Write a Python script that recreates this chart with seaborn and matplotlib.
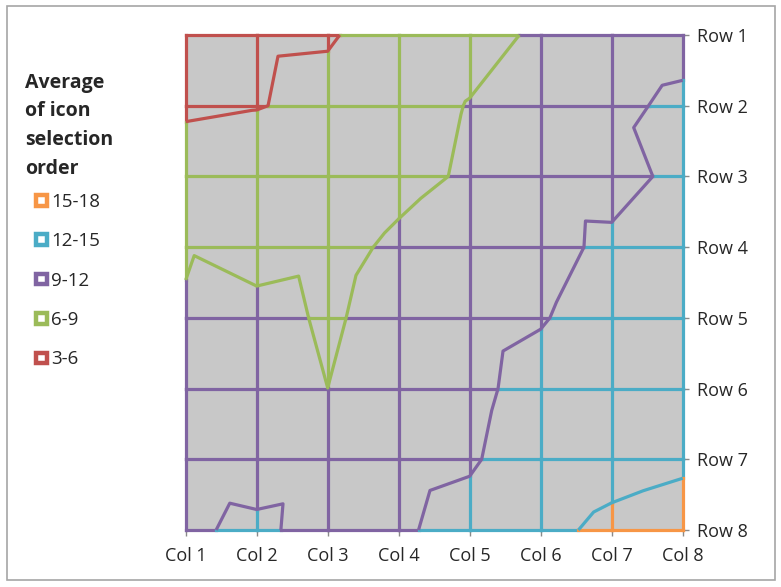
import numpy as np
import pandas as pd
import matplotlib
matplotlib.use("Agg")
import matplotlib.pyplot as plt
import matplotlib.tri as mtri
from matplotlib.collections import LineCollection
from matplotlib.patches import Rectangle
import seaborn as sns

# grid categories
col_labels = ["Col 1", "Col 2", "Col 3", "Col 4", "Col 5", "Col 6", "Col 7", "Col 8"]
row_labels = ["Row 1", "Row 2", "Row 3", "Row 4", "Row 5", "Row 6", "Row 7", "Row 8"]

# average icon selection order, one list per grid row
row_1 = [4.5, 5.64, 5.75, 7.22, 8.0, 9.43, 10.4, 10.84]
row_2 = [5.33, 5.84, 6.84, 7.79, 9.12, 10.3, 11.3, 12.65]
row_3 = [8.3, 8.5, 6.72, 8.145, 9.37, 10.02, 9.85, 13.56]
row_4 = [8.8, 7.2, 7.98, 9.57, 10.9, 10.19, 13.16, 13.3]
row_5 = [9.23, 10.47, 8.46, 10.54, 10.47, 11.67, 14.21, 13.8]
row_6 = [10.0, 10.0, 9.005, 10.3, 10.85, 13.73, 14.0, 14.2]
row_7 = [10.69, 10.04, 10.64, 10.7, 11.48, 14.56, 14.76, 14.89]
row_8 = [11.4, 12.8, 10.45, 11.36, 13.65, 14.83, 15.15, 15.3]

# value bands
band_edges = [3, 6, 9, 12, 15, 18]
band_labels = ["3-6", "6-9", "9-12", "12-15", "15-18"]
band_hex = ["#C0504D", "#9BBB59", "#8064A2", "#4BACC6", "#F79646"]

sns.set_theme(style="white")
plt.rcParams["font.family"] = ["Open Sans", "DejaVu Sans"]
band_colors = sns.color_palette(band_hex)

table = pd.DataFrame([row_1, row_2, row_3, row_4, row_5, row_6, row_7, row_8],
                     index=row_labels, columns=col_labels)
Z = table.to_numpy(dtype=float)
n_rows, n_cols = Z.shape

W, H = 781, 587
fig = plt.figure(figsize=(W / 100, H / 100), dpi=100)
fig.patch.set_facecolor("white")

# plot area placed in pixel terms
x0, x1 = 185.7, 682.7
y0, y1 = 35.0, 530.0
ax = fig.add_axes([x0 / W, (H - y1) / H, (x1 - x0) / W, (y1 - y0) / H])
ax.set_facecolor("#C8C8C8")
ax.set_xlim(1, n_cols)
ax.set_ylim(n_rows, 1)
for s in ax.spines.values():
    s.set_visible(False)


def band_index(v):
    i = int(np.searchsorted(band_edges, v, side="right")) - 1
    return min(max(i, 0), len(band_colors) - 1)


def split_edge(p0, p1, z0, z1):
    """Split one grid edge at band boundaries, returning coloured pieces."""
    ts = [0.0, 1.0]
    for lv in band_edges[1:-1]:
        if (z0 - lv) * (z1 - lv) < 0:
            ts.append((lv - z0) / (z1 - z0))
    ts = sorted(ts)
    out = []
    p0 = np.asarray(p0, float)
    p1 = np.asarray(p1, float)
    for a, b in zip(ts[:-1], ts[1:]):
        zm = z0 + 0.5 * (a + b) * (z1 - z0)
        out.append(([p0 + a * (p1 - p0), p0 + b * (p1 - p0)], band_colors[band_index(zm)]))
    return out


segs, cols = [], []
for r in range(n_rows):
    for c in range(n_cols - 1):
        for seg, colr in split_edge((c + 1, r + 1), (c + 2, r + 1), Z[r, c], Z[r, c + 1]):
            segs.append(seg)
            cols.append(colr)
for c in range(n_cols):
    for r in range(n_rows - 1):
        for seg, colr in split_edge((c + 1, r + 1), (c + 1, r + 2), Z[r, c], Z[r + 1, c]):
            segs.append(seg)
            cols.append(colr)

wire = LineCollection(segs, colors=cols, linewidths=2.3, capstyle="projecting",
                      clip_on=False, zorder=2)
ax.add_collection(wire)

# contour lines: each cell is cut along the diagonal with the higher end values
xs = np.tile(np.arange(1, n_cols + 1), n_rows)
ys = np.repeat(np.arange(1, n_rows + 1), n_cols)
zs = Z.ravel()
tris = []
for r in range(n_rows - 1):
    for c in range(n_cols - 1):
        tl, tr = r * n_cols + c, r * n_cols + c + 1
        bl, br = (r + 1) * n_cols + c, (r + 1) * n_cols + c + 1
        if zs[tl] + zs[br] >= zs[tr] + zs[bl]:
            tris += [[tl, tr, br], [tl, br, bl]]
        else:
            tris += [[tl, tr, bl], [tr, br, bl]]
tri = mtri.Triangulation(xs, ys, tris)
cs = ax.tricontour(tri, zs, levels=band_edges[1:-1], colors=band_colors[:4],
                   linewidths=2.3, zorder=3)
cs.set_clip_on(False)

# axes ticks and labels
ax.set_xticks(range(1, n_cols + 1))
ax.set_xticklabels(col_labels)
ax.set_yticks(range(1, n_rows + 1))
ax.set_yticklabels(row_labels)
ax.yaxis.tick_right()
ax.tick_params(axis="x", bottom=True, length=4, width=1, color="#8A8A8A",
               pad=8, labelsize=13, labelcolor="#262626")
ax.tick_params(axis="y", right=True, left=False, length=4, width=1, color="#8A8A8A",
               pad=6, labelsize=13, labelcolor="#262626")
ax.grid(False)

# legend drawn in pixel coordinates on an overlay
lg = fig.add_axes([0, 0, 1, 1], zorder=-1)
lg.set_xlim(0, W)
lg.set_ylim(H, 0)
lg.axis("off")
lg.patch.set_alpha(0)

title_lines = ["Average", "of icon", "selection", "order"]
for i, t in enumerate(title_lines):
    lg.text(25, 88 + i * 28.5, t, fontsize=14, fontweight="bold", color="#262626",
            va="baseline", ha="left")

entry_y = [200.5, 239.5, 279.0, 318.5, 358.0]
for j, yc in enumerate(entry_y):
    k = len(band_labels) - 1 - j
    lg.add_patch(Rectangle((36.2, yc - 5.3), 10.6, 10.6, facecolor="white",
                           edgecolor=band_colors[k], linewidth=3.2))
    lg.text(51.5, yc + 6.5, band_labels[k], fontsize=13.5, color="#262626",
            va="baseline", ha="left")

# chart area border
lg.add_patch(Rectangle((7, 6), 768, 574, facecolor="none", edgecolor="#A6A6A6", linewidth=1.2))

fig.savefig("out.png", dpi=100)
